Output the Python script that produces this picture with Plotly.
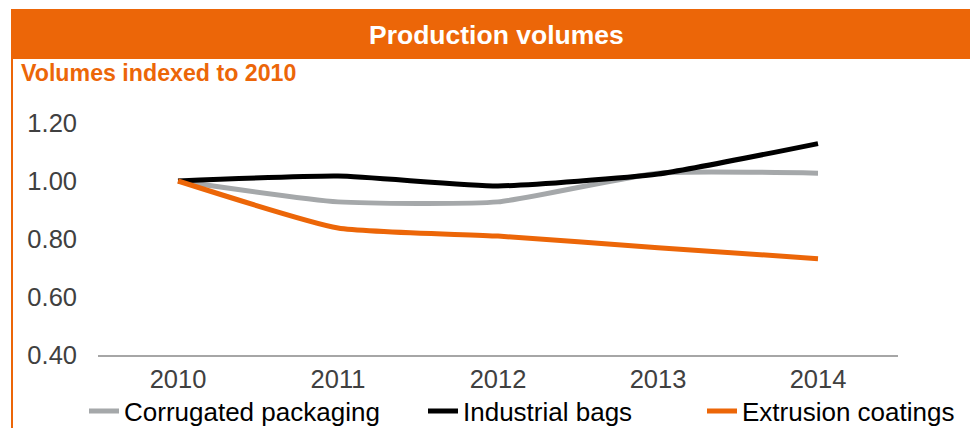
import plotly.graph_objects as go

# Production volume indices (2010 = 1.00)
years = ["2010", "2011", "2012", "2013", "2014"]
corrugated = [1.00, 0.928, 0.928, 1.027, 1.027]
industrial_bags = [1.00, 1.017, 0.983, 1.024, 1.129]
extrusion = [1.00, 0.838, 0.810, 0.770, 0.732]

series_names = ["Corrugated packaging", "Industrial bags", "Extrusion coatings"]
series_values = [corrugated, industrial_bags, extrusion]
series_colors = ["#A5A8AA", "#000000", "#EC6608"]
legend_ids = ["legend", "legend2", "legend3"]
legend_x = [84, 423, 702]

y_ticks = [0.40, 0.60, 0.80, 1.00, 1.20]

ORANGE = "#EC6608"
W, H = 970, 428
FONT = "Liberation Sans, Arial, sans-serif"

fig = go.Figure()
for name, vals, color, lg in zip(series_names, series_values, series_colors, legend_ids):
    fig.add_trace(go.Scatter(
        x=years, y=vals, name=name, mode="lines",
        line=dict(color=color, width=5, shape="spline", smoothing=0.5),
        legend=lg, hoverinfo="x+y+name",
    ))

legend_common = dict(
    orientation="h", xref="container", yref="container",
    xanchor="left", yanchor="middle", y=1 - 411 / H,
    font=dict(family=FONT, size=26, color="#000000"),
    bgcolor="rgba(0,0,0,0)", itemwidth=30, borderwidth=0,
)
legends = {}
for lg, lx in zip(legend_ids, legend_x):
    legends[lg] = dict(legend_common, x=lx / W)

shapes = [
    # header band
    dict(type="rect", xref="paper", yref="paper", layer="below",
         x0=-86 / 800, x1=(970 - 98) / 800, y0=(355 - 59) / 232, y1=(355 - 9) / 232,
         fillcolor=ORANGE, line=dict(width=0)),
    # left accent rule
    dict(type="line", xref="paper", yref="paper",
         x0=-86 / 800, x1=-86 / 800, y0=(355 - 430) / 232, y1=(355 - 9) / 232,
         line=dict(color=ORANGE, width=2)),
]

annotations = [
    dict(text="<b>Production volumes</b>", xref="paper", yref="paper",
         x=(496 - 98) / 800, y=(355 - 35) / 232, xanchor="center", yanchor="middle",
         showarrow=False, font=dict(family=FONT, size=26.5, color="#FFFFFF")),
    dict(text="<b>Volumes indexed to 2010</b>", xref="paper", yref="paper",
         x=(19 - 98) / 800, y=(355 - 73) / 232, xanchor="left", yanchor="middle",
         showarrow=False, font=dict(family=FONT, size=23.2, color=ORANGE)),
]

fig.update_layout(
    width=W, height=H,
    margin=dict(l=98, r=72, t=123, b=73, autoexpand=False),
    paper_bgcolor="#FFFFFF", plot_bgcolor="#FFFFFF",
    showlegend=True,
    shapes=shapes, annotations=annotations,
    **legends,
)

fig.update_xaxes(
    type="category", range=[-0.5, 4.5],
    showgrid=False, zeroline=False,
    showline=True, linecolor="#A6A6A6", linewidth=2,
    ticks="", ticklabelstandoff=0,
    tickfont=dict(family=FONT, size=25.5, color="#404040"),
)
fig.update_yaxes(
    range=[0.40, 1.20], tickvals=y_ticks,
    ticktext=[f"{v:.2f}" for v in y_ticks],
    showgrid=False, zeroline=False, showline=False,
    ticks="", ticklabelstandoff=20,
    tickfont=dict(family=FONT, size=25.5, color="#404040"),
)

fig.write_html("out.html")
